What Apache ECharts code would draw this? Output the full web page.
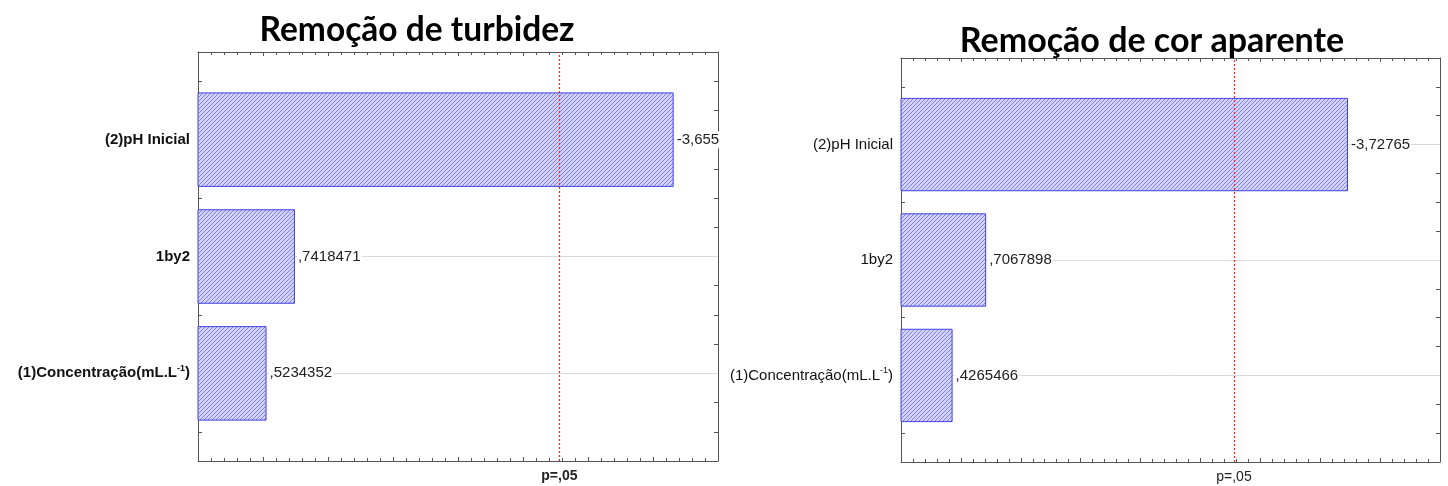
<!DOCTYPE html>
<html>
<head>
<meta charset="utf-8">
<script src="https://cdn.jsdelivr.net/npm/echarts@6/dist/echarts.min.js"></script>
<style>
  html, body { margin: 0; padding: 0; background: #fff; }
  #chart { width: 1448px; height: 486px; }
</style>
</head>
<body>
<div id="chart"></div>
<script>
// Factors, listed bottom to top (plotted at positions 1, 2, 3)
const factorNames = ['(1)Concentração(mL.L-1)', '1by2', '(2)pH Inicial'];
// Standardized effects for each response
const turbidityEffects = [0.5234352, 0.7418471, -3.655];
const colorEffects = [0.4265466, 0.7067898, -3.72765];
// Critical t value for p = 0.05
const pCritical = 2.776;
const pLabel = 'p=,05';
const panelTitles = ['Remoção de turbidez', 'Remoção de cor aparente'];
const xMax = [4, 4.5];

// Diagonal hatch fill for the bars
function makeHatch() {
  const size = 4;
  const c = document.createElement('canvas');
  c.width = size; c.height = size;
  const ctx = c.getContext('2d');
  const img = ctx.createImageData(size, size);
  for (let y = 0; y < size; y++) {
    for (let x = 0; x < size; x++) {
      const dark = (x + y) % size === size - 1;
      const i = (y * size + x) * 4;
      const col = dark ? [128, 128, 234] : [210, 210, 250];
      img.data[i] = col[0]; img.data[i + 1] = col[1]; img.data[i + 2] = col[2]; img.data[i + 3] = 255;
    }
  }
  ctx.putImageData(img, 0, 0);
  return { image: c, repeat: 'repeat' };
}
const hatch = makeHatch();

// Effect value in the Portuguese style: comma decimal, no leading zero
function fmtEffect(v) {
  let s = String(v).replace('.', ',');
  s = s.replace(/^0,/, ',').replace(/^-0,/, '-,');
  return s;
}

function factorLabel(v) {
  const k = Math.round(v);
  if (Math.abs(v - k) > 1e-6 || k < 1 || k > factorNames.length) return '';
  const name = factorNames[k - 1];
  if (name.endsWith('L-1)')) return '{n|' + name.slice(0, -3) + '}{s|-1}{n|)}';
  return '{n|' + name + '}';
}

const grids = [
  { left: 198, top: 52, width: 520, height: 409 },
  { left: 901, top: 58, width: 539, height: 404 }
];
const bold = [true, false];
const effectSets = [turbidityEffects, colorEffects];

const axisLineStyle = { color: '#555', width: 1 };

function xAxes(g) {
  const base = {
    gridIndex: g, type: 'value', min: 0, max: xMax[g], interval: 0.5,
    axisLine: { show: true, onZero: false, lineStyle: axisLineStyle },
    axisTick: { show: true, inside: true, length: 4, lineStyle: { color: '#555' } },
    minorTick: { show: true, splitNumber: 5, length: 3, lineStyle: { color: '#555' } },
    axisLabel: { show: false },
    splitLine: { show: false }
  };
  return [Object.assign({ position: 'bottom' }, base), Object.assign({ position: 'top' }, base)];
}

function yAxes(g) {
  const w = bold[g] ? 'bold' : 'normal';
  const base = {
    gridIndex: g, type: 'value', min: 0.25, max: 3.75, interval: 0.25,
    axisLine: { show: true, onZero: false, lineStyle: axisLineStyle },
    axisTick: { show: true, inside: true, length: 4, lineStyle: { color: '#555' } },
    splitLine: { show: false }
  };
  return [
    Object.assign({}, base, {
      position: 'left',
      axisLabel: {
        show: true, margin: 8, formatter: factorLabel,
        rich: {
          n: { fontFamily: 'Liberation Sans', fontSize: 15, fontWeight: w, color: '#111' },
          s: { fontFamily: 'Liberation Sans', fontSize: 9, fontWeight: w, color: '#111', verticalAlign: 'top', padding: [0, 0, 9, 0] }
        }
      }
    }),
    Object.assign({}, base, { position: 'right', axisLabel: { show: false } })
  ];
}

function renderBar(params, api) {
  const pos = api.value(1);
  const p0 = api.coord([0, pos]);
  const p1 = api.coord([api.value(0), pos]);
  const h = api.size([0, 0.8])[1];
  return {
    type: 'rect',
    shape: { x: p0[0], y: p0[1] - h / 2, width: p1[0] - p0[0], height: h },
    style: { fill: hatch, stroke: '#4040dc', lineWidth: 1 },
    textContent: {
      style: {
        text: fmtEffect(api.value(2)),
        fill: '#222', fontFamily: 'Liberation Sans', fontSize: 15,
        backgroundColor: '#fff', padding: [1, 1]
      }
    },
    textConfig: { position: 'right', distance: 2 }
  };
}

const pLineStyle = { color: '#ff2020', type: [2, 2], width: 1.2, opacity: 1 };

const series = [];
effectSets.forEach((effects, g) => {
  const xi = g * 2, yi = g * 2;
  // light category guide lines
  series.push({
    type: 'line', xAxisIndex: xi, yAxisIndex: yi, data: [], silent: true,
    markLine: {
      silent: true, symbol: 'none', z: 1, animation: false,
      label: { show: false },
      lineStyle: { color: '#dadada', type: 'solid', width: 1 },
      data: factorNames.map((_, i) => ({ yAxis: i + 1 }))
    }
  });
  series.push({
    type: 'custom', xAxisIndex: xi, yAxisIndex: yi, z: 2,
    renderItem: renderBar,
    encode: { x: 0, y: 1 },
    itemStyle: { color: '#ff2020' },
    data: effects.map((v, i) => [Math.abs(v), i + 1, v])
  });
  // critical value reference line (own series so it keeps its colour)
  series.push({
    type: 'line', xAxisIndex: xi, yAxisIndex: yi, data: [], silent: true, z: 4,
    color: '#ff2020',
    markLine: {
      silent: true, symbol: 'none', animation: false, z: 5,
      lineStyle: pLineStyle,
      label: {
        show: true, position: 'start', distance: 8, formatter: pLabel,
        fontFamily: 'Liberation Sans', fontSize: 14,
        fontWeight: bold[g] ? 'bold' : 'normal', color: '#222'
      },
      data: [{ xAxis: pCritical }]
    }
  });
});

const chart = echarts.init(document.getElementById('chart'), null, { renderer: 'canvas' });
chart.setOption({
  animation: false,
  backgroundColor: '#fff',
  title: [
    {
      text: panelTitles[0], left: 412, top: 8, textAlign: 'center',
      textStyle: { fontFamily: 'Lato', fontWeight: 'bold', fontSize: 33.5, color: '#000' }
    },
    {
      text: panelTitles[1], left: 1147, top: 19, textAlign: 'center',
      textStyle: { fontFamily: 'Lato', fontWeight: 'bold', fontSize: 34, color: '#000' }
    }
  ],
  grid: grids,
  xAxis: [...xAxes(0), ...xAxes(1)].map((a, i) => Object.assign(a, { gridIndex: Math.floor(i / 2) })),
  yAxis: [...yAxes(0), ...yAxes(1)].map((a, i) => Object.assign(a, { gridIndex: Math.floor(i / 2) })),
  series: series
});
</script>
</body>
</html>
